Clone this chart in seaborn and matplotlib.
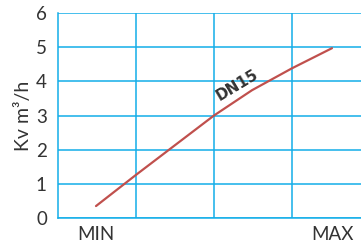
import pandas as pd
import matplotlib
matplotlib.use("Agg")
import matplotlib.pyplot as plt
import seaborn as sns

# valores (posição relativa MIN=0 .. MAX=100)
posicao = [0, 16.9, 50, 66.1, 83.0, 100]
kv = [0.35, 1.26, 3.0, 3.74, 4.38, 4.97]
rotulo_serie = "DN15"
rotulos_x = ["MIN", "MAX"]

df = pd.DataFrame({"pos": posicao, "kv": kv})

sns.set_style("white")
plt.rcParams['font.family'] = ['Lato', 'DejaVu Sans']

azul = "#14aee8"
vermelho = "#c0504d"
texto = "#333333"

fig = plt.figure(figsize=(3.61, 2.45), dpi=100)
ax = fig.add_axes([0.1607, 0.1102, 0.8393, 0.8367])

sns.lineplot(data=df, x="pos", y="kv", color=vermelho, linewidth=1.6, ax=ax)

ax.set_xlim(-16.1, 112.3)
ax.set_ylim(0, 6)
ax.set_yticks(range(0, 7))
ax.set_xticks([0, 100])
ax.set_xticklabels(rotulos_x)
ax.set_xticks([16.9, 50, 83.0], minor=True)

ax.grid(True, which="major", axis="y", color=azul, linewidth=1.1)
ax.grid(True, which="minor", axis="x", color=azul, linewidth=1.1)
ax.grid(False, which="major", axis="x")
ax.set_axisbelow(True)

for lado in ["top", "right"]:
    ax.spines[lado].set_visible(False)
for lado in ["left", "bottom"]:
    ax.spines[lado].set_color(azul)
    ax.spines[lado].set_linewidth(1.1)

ax.tick_params(axis="both", which="both", length=0, labelsize=13.5, colors=texto)
ax.tick_params(axis="y", pad=8)
ax.tick_params(axis="x", pad=6)

ax.set_xlabel("")
ax.set_ylabel("Kv m³/h", fontsize=14, color=texto, labelpad=3)

ax.text(60, 3.9, rotulo_serie, rotation=31, fontsize=11, fontweight="bold",
        color=texto, ha="center", va="center", family=["DejaVu Sans"])

fig.savefig("out.png", dpi=100)
